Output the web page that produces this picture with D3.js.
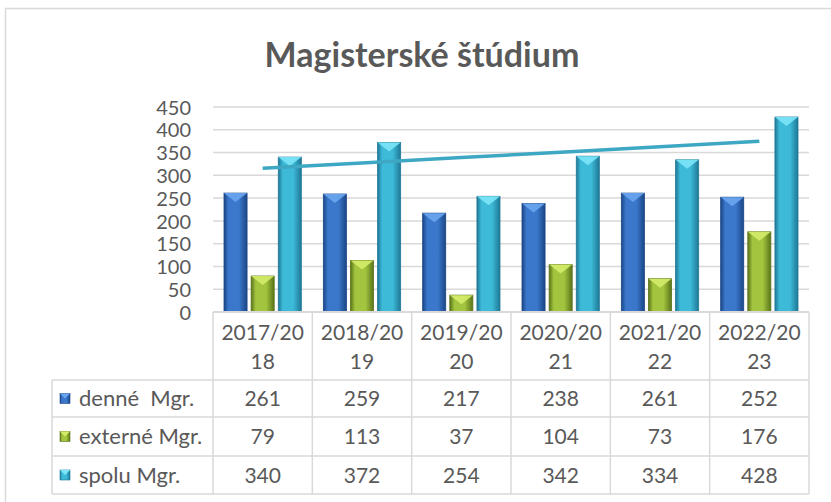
<!DOCTYPE html>
<html>
<head>
<meta charset="utf-8">
<script src="https://cdn.jsdelivr.net/npm/d3@7"></script>
<style>
  body { margin: 0; background: #fff; }
  text { font-family: Lato, 'Open Sans', sans-serif; fill: #595959; }
</style>
</head>
<body>
<div id="chart"></div>
<script>
const categories = ['2017/2018', '2018/2019', '2019/2020', '2020/2021', '2021/2022', '2022/2023'];
const seriesNames = ['denné  Mgr.', 'externé Mgr.', 'spolu Mgr.'];
const denne = [261, 259, 217, 238, 261, 252];
const externe = [79, 113, 37, 104, 73, 176];
const spolu = [340, 372, 254, 342, 334, 428];
const yTicks = [0, 50, 100, 150, 200, 250, 300, 350, 400, 450];

const series = [
  { name: seriesNames[0], values: denne, key: 'denne' },
  { name: seriesNames[1], values: externe, key: 'externe' },
  { name: seriesNames[2], values: spolu, key: 'spolu' }
];

const colors = {
  denne: { edge: '#1b4686', mid: '#3b78cc', top: '#6aa6ee' },
  externe: { edge: '#5a7419', mid: '#a3c43e', top: '#d4ec6a' },
  spolu: { edge: '#1f7896', mid: '#3cbad8', top: '#7ce6f7' }
};

const width = 831, height = 502;
const plot = { left: 213, right: 809, top: 107, bottom: 312 };
const tableLeft = 52;
const rowEdges = [380, 417, 456, 494];
const grid = '#d9d9d9';

const svg = d3.select('#chart').append('svg')
  .attr('width', width)
  .attr('height', height);

// gradients
const defs = svg.append('defs');
Object.entries(colors).forEach(([k, c]) => {
  const g = defs.append('linearGradient').attr('id', 'g-' + k)
    .attr('x1', 0).attr('x2', 1).attr('y1', 0).attr('y2', 0);
  g.append('stop').attr('offset', '0%').attr('stop-color', c.edge);
  g.append('stop').attr('offset', '20%').attr('stop-color', c.mid);
  g.append('stop').attr('offset', '65%').attr('stop-color', c.mid);
  g.append('stop').attr('offset', '100%').attr('stop-color', c.edge);
});

// outer frame
svg.append('path')
  .attr('d', `M5.5,${height} V8.5 H${width}`)
  .attr('fill', 'none')
  .attr('stroke', grid)
  .attr('stroke-width', 1.5);

svg.append('text')
  .attr('x', 422)
  .attr('y', 67)
  .attr('text-anchor', 'middle')
  .style('font-size', '34px')
  .style('font-weight', 'bold')
  .text('Magisterské štúdium');

const x = d3.scaleBand().domain(categories).range([plot.left, plot.right]);
const bw = x.bandwidth();
const x1 = d3.scaleBand().domain(series.map(s => s.key))
  .range([11, bw - 11]).paddingInner(0.15);
const y = d3.scaleLinear().domain([0, 450]).range([plot.bottom, plot.top]);

// gridlines
svg.append('g').selectAll('line').data(yTicks.slice(1)).join('line')
  .attr('x1', plot.left).attr('x2', plot.right)
  .attr('y1', d => y(d)).attr('y2', d => y(d))
  .attr('stroke', grid).attr('stroke-width', 1.5);

// y axis
const yAxis = svg.append('g')
  .attr('transform', `translate(${plot.left - 22},0)`)
  .call(d3.axisLeft(y).tickValues(yTicks).tickSize(0).tickPadding(0));
yAxis.select('.domain').remove();
yAxis.selectAll('text')
  .attr('dy', '0.36em')
  .style('font-size', '20px')
  .style('font-family', 'Lato, sans-serif')
  .attr('fill', '#595959');

// bars
const bars = svg.append('g');
series.forEach(s => {
  const c = colors[s.key];
  const gs = bars.append('g');
  s.values.forEach((v, i) => {
    const bx = x(categories[i]) + x1(s.key);
    const w = x1.bandwidth();
    gs.append('rect')
      .attr('x', bx).attr('y', y(v))
      .attr('width', w).attr('height', y(0) - y(v))
      .attr('fill', `url(#g-${s.key})`)
      .attr('stroke', c.edge).attr('stroke-width', 0.8);
    gs.append('path')
      .attr('d', `M${bx},${y(v)} L${bx + w},${y(v)} L${bx + w / 2},${y(v) + 9} Z`)
      .attr('fill', c.top)
      .attr('opacity', 0.9);
  });
});

// linear trendline for spolu
const xs = d3.range(1, spolu.length + 1);
const mx = d3.mean(xs), my = d3.mean(spolu);
const slope = d3.sum(xs, (d, i) => (d - mx) * (spolu[i] - my)) / d3.sum(xs, d => (d - mx) ** 2);
const trend = xs.map(d => my + slope * (d - mx));
svg.append('path')
  .datum(trend)
  .attr('d', d3.line()
    .x((d, i) => x(categories[i]) + bw / 2)
    .y(d => y(d)))
  .attr('fill', 'none')
  .attr('stroke', '#3ea8c4')
  .attr('stroke-width', 3.5);

// data table
const table = svg.append('g');
table.append('line')
  .attr('x1', plot.left).attr('x2', plot.right)
  .attr('y1', plot.bottom).attr('y2', plot.bottom)
  .attr('stroke', grid).attr('stroke-width', 2);
rowEdges.forEach(r => {
  table.append('line')
    .attr('x1', tableLeft).attr('x2', plot.right)
    .attr('y1', r).attr('y2', r)
    .attr('stroke', grid).attr('stroke-width', 1.5);
});
categories.concat([null]).forEach((c, i) => {
  const vx = i < categories.length ? x(c) : plot.right;
  table.append('line')
    .attr('x1', vx).attr('x2', vx)
    .attr('y1', plot.bottom).attr('y2', rowEdges[3])
    .attr('stroke', grid).attr('stroke-width', 1.5);
});
table.append('line')
  .attr('x1', tableLeft).attr('x2', tableLeft)
  .attr('y1', rowEdges[0]).attr('y2', rowEdges[3])
  .attr('stroke', grid).attr('stroke-width', 1.5);

// header labels
categories.forEach(c => {
  const parts = [c.slice(0, 7), c.slice(7)];
  const t = table.append('text')
    .attr('x', x(c) + bw / 2)
    .attr('text-anchor', 'middle')
    .style('font-size', '21px');
  t.append('tspan').attr('x', x(c) + bw / 2).attr('y', 340).text(parts[0]);
  t.append('tspan').attr('x', x(c) + bw / 2).attr('y', 369).text(parts[1]);
});

// rows
series.forEach((s, r) => {
  const cy = (rowEdges[r] + rowEdges[r + 1]) / 2;
  const c = colors[s.key];
  table.append('rect')
    .attr('x', 60).attr('y', cy - 5).attr('width', 10).attr('height', 10)
    .attr('fill', `url(#g-${s.key})`)
    .attr('stroke', c.edge).attr('stroke-width', 0.6);
  table.append('path')
    .attr('d', `M60,${cy - 5} L70,${cy - 5} L65,${cy} Z`)
    .attr('fill', c.top);
  table.append('text')
    .attr('x', 79).attr('y', cy).attr('dy', '0.36em')
    .attr('xml:space', 'preserve')
    .style('white-space', 'pre')
    .style('font-size', '22px')
    .text(s.name);
  s.values.forEach((v, i) => {
    table.append('text')
      .attr('x', x(categories[i]) + bw / 2).attr('y', cy).attr('dy', '0.36em')
      .attr('text-anchor', 'middle')
      .style('font-size', '21px')
      .text(v);
  });
});
</script>
</body>
</html>
